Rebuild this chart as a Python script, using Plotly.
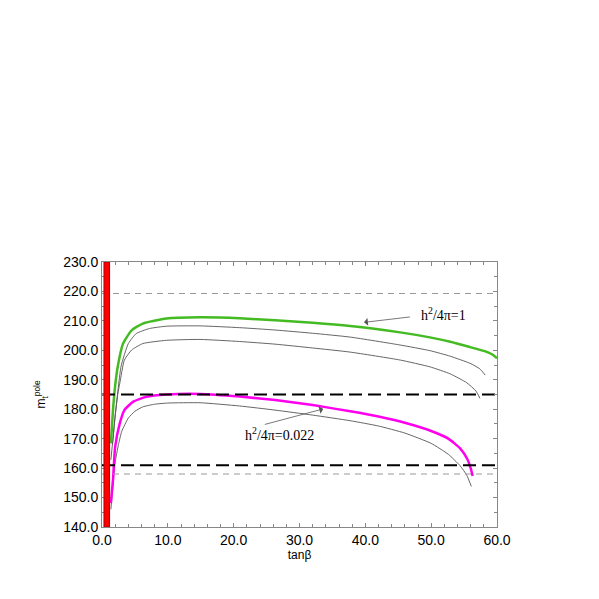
import plotly.graph_objects as go

# ---- data ----
green_x = [1.35, 1.67, 2.0, 2.4, 3.2, 4.5, 6.2, 9.8, 14.9, 20.9, 26.3, 32, 37.7, 45.3, 49.8, 52.9, 55.9, 58.0, 59.3, 60.0]
green_y = [168.4, 179.7, 188.0, 194.6, 202.3, 206.8, 209.1, 210.8, 211.2, 210.9, 210.2, 209.4, 208.3, 206.1, 204.4, 202.9, 201.1, 199.8, 198.6, 197.3]

gray1_x = [1.35, 2.1, 2.9, 4.0, 5.2, 7.2, 9.8, 14.9, 20.9, 26.3, 32, 37.7, 45.3, 49.8, 52.9, 55.9, 57.4, 58.2]
gray1_y = [162.8, 179.7, 194.6, 202.3, 205.7, 207.4, 208.2, 208.3, 207.7, 206.9, 205.8, 204.5, 201.8, 199.9, 198.0, 195.6, 193.7, 191.6]

gray2_x = [1.6, 2.0, 2.4, 2.7, 3.4, 4.5, 6.2, 9.8, 14.9, 20.9, 26.3, 32, 37.7, 45.3, 49.8, 52.9, 55.4, 56.8, 57.4]
gray2_y = [168.0, 178.0, 185.2, 188.8, 196.7, 200.1, 202.3, 203.4, 203.7, 203.0, 202.1, 200.8, 199.4, 196.7, 194.4, 192.0, 189.0, 186.2, 183.7]

mag_x = [1.35, 1.67, 2.0, 2.7, 3.4, 4.7, 6.7, 9.8, 14.9, 20.9, 26.3, 32, 37.7, 42, 46, 50.0, 52.6, 54.4, 55.5, 56.0, 56.3]
mag_y = [148.1, 156.0, 167.3, 175.2, 179.7, 182.5, 184.2, 185.0, 185.2, 184.3, 183.1, 181.4, 179.3, 177.5, 175.4, 172.6, 170.0, 166.7, 163.0, 160.0, 157.3]

gray3_x = [1.35, 1.7, 2.0, 2.5, 3.0, 4.0, 5.0, 6.2, 8, 10, 14.9, 20.9, 26.3, 32, 37.7, 42, 46, 50.0, 52.6, 54.4, 55.4, 56.1]
gray3_y = [146.0, 155.0, 162.0, 168.0, 172.5, 177.0, 179.3, 180.8, 181.7, 182.1, 182.2, 181.1, 179.7, 178.0, 176.1, 174.3, 171.9, 168.4, 164.7, 160.8, 157.6, 153.8]

black_dash_levels = [185.0, 161.0]
gray_dash_levels = [219.3, 158.0]
excluded_band = [0.3, 1.15]

x_ticks = [0, 10, 20, 30, 40, 50, 60]
y_ticks = [140, 150, 160, 170, 180, 190, 200, 210, 220, 230]

fig = go.Figure()

for xs, ys in [(gray1_x, gray1_y), (gray2_x, gray2_y), (gray3_x, gray3_y)]:
    fig.add_trace(go.Scatter(x=xs, y=ys, mode="lines",
                             line=dict(color="#555555", width=0.9, shape="spline", smoothing=0.5),
                             showlegend=False, hoverinfo="skip"))
fig.add_trace(go.Scatter(x=green_x, y=green_y, mode="lines",
                         line=dict(color="#44bb22", width=2.5, shape="spline", smoothing=0.5),
                         showlegend=False))
fig.add_trace(go.Scatter(x=mag_x, y=mag_y, mode="lines",
                         line=dict(color="#ff00ee", width=2.5, shape="spline", smoothing=0.5),
                         showlegend=False))

for lv in gray_dash_levels:
    fig.add_trace(go.Scatter(x=[0, 60], y=[lv, lv], mode="lines",
                             line=dict(color="#999999", width=1, dash="6px,5px"),
                             showlegend=False, hoverinfo="skip"))
for lv in black_dash_levels:
    fig.add_trace(go.Scatter(x=[0, 60], y=[lv, lv], mode="lines",
                             line=dict(color="black", width=2, dash="13px,6px"),
                             showlegend=False, hoverinfo="skip"))

fig.add_shape(type="rect", xref="x", yref="y",
              x0=excluded_band[0], x1=excluded_band[1], y0=140, y1=230,
              fillcolor="#ff0000", line=dict(color="#aa0000", width=1), layer="above")

# annotations
fig.add_annotation(x=39.8, y=209.5, ax=47.0, ay=211.4, xref="x", yref="y", axref="x", ayref="y",
                   text="", showarrow=True, arrowhead=1, arrowsize=1.6, arrowwidth=0.8, arrowcolor="#555555")
fig.add_annotation(x=51.9, y=212.2, xref="x", yref="y", showarrow=False,
                   text="h<sup>2</sup>/4π=1",
                   font=dict(family="Liberation Serif", size=14, color="black"))
fig.add_annotation(x=33.6, y=180.1, ax=24.5, ay=174.7, xref="x", yref="y", axref="x", ayref="y",
                   text="", showarrow=True, arrowhead=1, arrowsize=1.6, arrowwidth=0.8, arrowcolor="#555555")
fig.add_annotation(x=27.0, y=171.5, xref="x", yref="y", showarrow=False,
                   text="h<sup>2</sup>/4π=0.022",
                   font=dict(family="Liberation Serif", size=14, color="black"))

axis_common = dict(showgrid=False, zeroline=False, showline=True, linecolor="#888888", linewidth=1,
                   mirror="allticks", ticks="inside", ticklen=4, tickcolor="#888888",
                   tickfont=dict(family="Liberation Sans", size=14, color="black"))

fig.update_xaxes(range=[0, 60], tickvals=x_ticks, ticktext=[f"{v:.1f}" for v in x_ticks],
                 minor=dict(ticks="inside", ticklen=3, dtick=2, tickcolor="#888888"),
                 title=dict(text="tanβ", font=dict(family="Liberation Sans", size=12, color="black"), standoff=2),
                 **axis_common)
fig.update_yaxes(range=[140, 230], tickvals=y_ticks, ticktext=[f"{v:.1f}" for v in y_ticks],
                 minor=dict(ticks="inside", ticklen=3, dtick=5, tickcolor="#888888"),
                 title=dict(text="m<sub>t</sub><sup>pole</sup>", font=dict(family="Liberation Sans", size=12, color="black"), standoff=14),
                 **axis_common)

# page body has an 8px margin, so the figure is shrunk and shifted accordingly
fig.update_layout(width=591, height=591, paper_bgcolor="white", plot_bgcolor="white",
                  margin=dict(l=94, r=102, t=254, b=72), showlegend=False)

fig.write_html("out.html")
